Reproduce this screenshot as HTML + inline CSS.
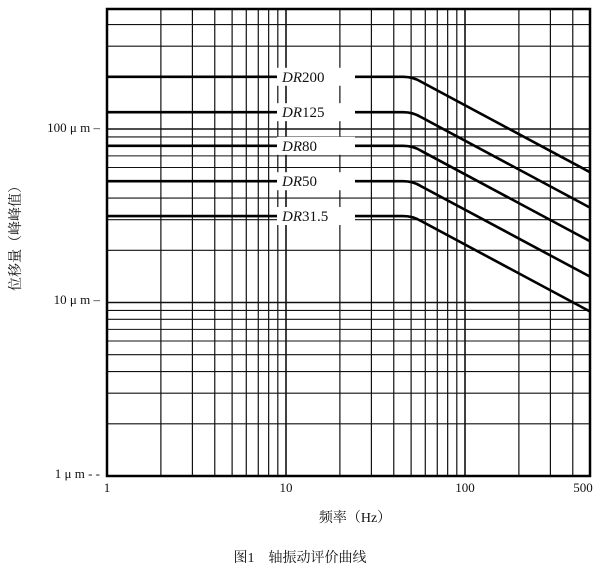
<!DOCTYPE html>
<html><head><meta charset="utf-8"><style>
html,body{margin:0;padding:0;background:#fff;width:601px;height:571px;overflow:hidden}
svg{display:block}
text{font-family:"Liberation Serif","Noto Serif CJK SC",serif;fill:#111}
</style></head><body>
<svg id="s" width="601" height="571" viewBox="0 0 601 571" xmlns="http://www.w3.org/2000/svg">
<g id="grid" stroke="#111" fill="none"></g>
<g id="curves" stroke="#000" stroke-width="2.6" fill="none"></g>
<rect x="107" y="9" width="483" height="467" fill="none" stroke="#000" stroke-width="2.5"/>
<g font-size="13" text-anchor="end">
<text x="100" y="132">100 μ m –</text>
<text x="100" y="304">10 μ m –</text>
<text x="100" y="478">1 μ m - -</text>
</g>
<g font-size="13" text-anchor="middle">
<text x="107" y="492">1</text>
<text x="286" y="492">10</text>
<text x="465" y="492">100</text>
<text x="583" y="492">500</text>
</g>
<text x="355" y="522" font-size="14" text-anchor="middle">频率（Hz）</text>
<text transform="translate(20,235) rotate(-90)" font-size="14" text-anchor="middle">位移量（峰峰值）</text>
<text x="300" y="562" font-size="14" text-anchor="middle">图1　轴振动评价曲线</text>
<g id="labels" font-size="15" font-style="italic"></g>
</svg>
<script>
var NS="http://www.w3.org/2000/svg";
function X(f){return 107+179*Math.log10(f);}
function Y(v){return 476-173.5*Math.log10(v);}
function el(p,t,a){var e=document.createElementNS(NS,t);for(var k in a)e.setAttribute(k,a[k]);document.getElementById(p).appendChild(e);return e;}
[1,10,100].forEach(function(d){for(var m=1;m<=9;m++){var f=d*m;if(f>500)return;var x=X(f);
el("grid","line",{x1:x,y1:9,x2:x,y2:476,"stroke-width":m==1?1.6:1.2});}});
[1,10,100].forEach(function(d){for(var m=1;m<=9;m++){var v=d*m;var y=Y(v);if(y<9)return;
el("grid","line",{x1:107,y1:y,x2:590,y2:y,"stroke-width":m==1?1.6:1.1});}});
var lv=[[200,"DR200"],[125,"DR125"],[80,"DR80"],[50,"DR50"],[31.5,"DR31.5"]];
lv.forEach(function(l){var y=Y(l[0]);var xb=X(50);
var y2=Y(l[0]*Math.pow(500/50,-0.55));
el("curves","path",{d:"M107 "+y+" L"+(xb-8)+" "+y+" Q"+(xb+2)+" "+y+" "+(xb+10)+" "+(y+5)+" L590 "+y2});
el("labels","rect",{x:277,y:y-9,width:78,height:18,fill:"#fff",stroke:"none"});
var t=el("labels","text",{x:282,y:y+5});
t.innerHTML='<tspan>DR</tspan><tspan font-style="normal">'+l[1].slice(2)+'</tspan>';
});
</script>
</body></html>
